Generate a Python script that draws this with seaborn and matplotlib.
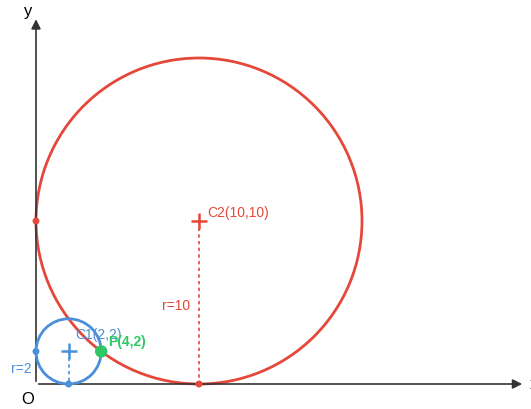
import matplotlib
matplotlib.use("Agg")
import matplotlib.pyplot as plt
import seaborn as sns
from matplotlib.patches import Circle

# circle data
c1_center = (2, 2)
c1_radius = 2
c2_center = (10, 10)
c2_radius = 10
tangent_point = (4, 2)

# points where circles touch the axes
c1_axis_x = [0, 2]
c1_axis_y = [2, 0]
c2_axis_x = [0, 10]
c2_axis_y = [10, 0]

red = "#e5483a"
blue = "#4a8fd8"
green = "#2fc866"
dark = "#333333"

sns.set_style("white")
plt.rcParams["font.family"] = ["Liberation Sans", "DejaVu Sans"]

fig = plt.figure(figsize=(5.31, 4.10), dpi=100)
ax = fig.add_axes([0, 0, 1, 1])
ax.set_xlim(-36 / 16.3, (531 - 36) / 16.3)
ax.set_ylim(-(410 - 385) / 16.3, 385 / 16.3)
ax.axis("off")

# axes with arrows
ax.annotate("", xy=(30.0, 0), xytext=(0, 0),
            arrowprops=dict(arrowstyle="-|>", color=dark, lw=1.2, mutation_scale=14))
ax.annotate("", xy=(0, 22.55), xytext=(0, 0),
            arrowprops=dict(arrowstyle="-|>", color=dark, lw=1.2, mutation_scale=14))
ax.text(-0.5, 22.9, "y", fontsize=12, color="black", ha="center", va="center")
ax.text(30.3, 0.05, "x", fontsize=12, color="black", ha="left", va="center")
ax.text(-0.5, -0.92, "O", fontsize=12, color="black", ha="center", va="center")

# big circle C2
ax.add_patch(Circle(c2_center, c2_radius, fill=False, color=red, lw=2.0))
ax.plot([c2_center[0], c2_center[0]], [c2_center[1], 0], color=red, lw=1.2, ls=(0, (2, 2)))
sns.scatterplot(x=c2_axis_x, y=c2_axis_y, color=red, s=25, edgecolor="none", ax=ax, zorder=5)
ax.plot(*c2_center, marker="+", color=red, ms=11, mew=1.8)
ax.text(10.49, 10.55, "C2(10,10)", color=red, fontsize=10, ha="left", va="center")
ax.text(9.45, 4.85, "r=10", color=red, fontsize=10, ha="right", va="center")

# small circle C1
ax.add_patch(Circle(c1_center, c1_radius, fill=False, color=blue, lw=2.0, zorder=4))
ax.plot([c1_center[0], c1_center[0]], [c1_center[1], 0], color=blue, lw=1.2, ls=(0, (2, 2)))
sns.scatterplot(x=c1_axis_x, y=c1_axis_y, color=blue, s=25, edgecolor="none", ax=ax, zorder=5)
ax.plot(*c1_center, marker="+", color=blue, ms=11, mew=1.8)
ax.text(2.39, 3.07, "C1(2,2)", color=blue, fontsize=10, ha="left", va="center")
ax.text(-0.25, 0.98, "r=2", color=blue, fontsize=10, ha="right", va="center")

# tangent point
sns.scatterplot(x=[tangent_point[0]], y=[tangent_point[1]], color=green, s=80,
                edgecolor="none", ax=ax, zorder=6)
ax.text(4.42, 2.64, "P(4,2)", color=green, fontsize=10, fontweight="bold",
        ha="left", va="center")

fig.savefig("out.png", dpi=100)
